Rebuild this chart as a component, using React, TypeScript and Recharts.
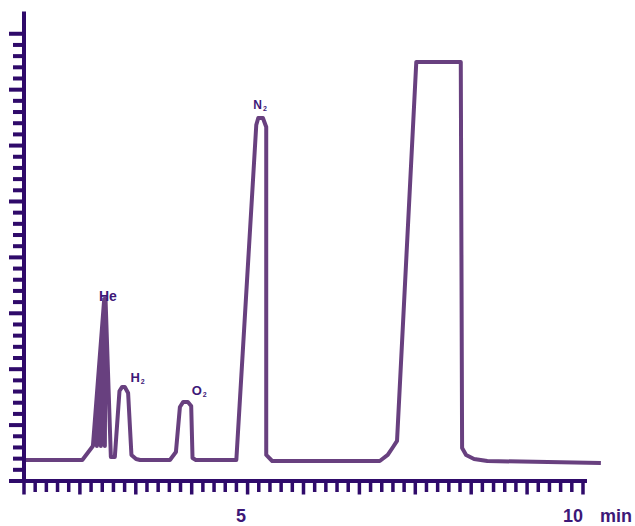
import React from "react"
import { LineChart, Line, XAxis, YAxis, ReferenceDot } from "recharts"

// retention time (min) and detector signal
const times = [
  1.73, 2.61, 2.77, 2.94, 2.83, 2.95, 2.89, 2.952, 2.95, 2.96, 3.04, 3.1, 3.17, 3.21, 3.25, 3.3, 3.35,
  3.42, 3.48, 3.93, 4.02, 4.08, 4.13, 4.2, 4.25, 4.27, 4.32, 4.93, 5.23, 5.26, 5.33, 5.38, 5.38, 5.47,
  7.09, 7.21, 7.29, 7.35, 7.64, 8.31, 8.33, 8.39, 8.51, 8.71, 10.42,
]
const signal = [
  1.88, 1.88, 3.13, 16.28, 3.13, 16.28, 3.13, 16.28, 3.13, 16.28, 2.15, 2.15, 8.05, 8.41, 8.41, 7.87, 2.33,
  1.97, 1.88, 1.88, 2.59, 6.62, 7.07, 7.07, 6.71, 2.06, 1.88, 1.88, 31.84, 32.47, 32.47, 31.66, 2.33, 1.79,
  1.79, 2.33, 3.04, 3.58, 37.48, 37.48, 2.95, 2.33, 1.97, 1.79, 1.61,
]

const peakNames = ["He", "H2", "O2", "N2"]
const peakTimes = [2.95, 3.23, 4.16, 5.29]
const peakHeights = [16.28, 8.41, 7.07, 32.47]

const xLabels = [5, 10]
const xUnit = "min"

const data = times.map((t, i) => ({ t, s: signal[i] }))

const AXIS = "#2f0a6a"
const TEXT = "#3d1878"
const TRACE = "#68407f"
const FONT = "'Liberation Sans', Arial, sans-serif"

const W = 627
const H = 518
const LEFT = 16
const RIGHT = 27
const TOP = 3.4
const XH = 45

const PX_PER_MIN = 66.4
const T0 = 1.732
const T1 = T0 + (W - LEFT - RIGHT) / PX_PER_MIN
const MARKS = 50
const MARK_STEP = 0.16837
const markTicks = Array.from({ length: MARKS + 1 }, (_, i) => T0 + i * MARK_STEP)
const yTicks = Array.from({ length: 41 }, (_, i) => i)

const labelStyle: Record<string, { dx: number; dy: number; size: number; anchor: string }> = {
  He: { dx: 3, dy: 1.7, size: 14, anchor: "middle" },
  H2: { dx: 7, dy: -5, size: 13, anchor: "start" },
  O2: { dx: 6.5, dy: -7, size: 13, anchor: "start" },
  N2: { dx: -7, dy: -8.7, size: 12, anchor: "start" },
}

const YTick = ({ x, y, payload }: any) => {
  const len = payload.value % 5 === 0 ? 15 : 11
  return <rect x={x - len} y={y - 2} width={len} height={4} fill={AXIS} />
}

const XTick = ({ x, y, payload }: any) => {
  const v = payload.value
  if (xLabels.includes(v)) {
    const last = v === xLabels[xLabels.length - 1]
    return (
      <g fontFamily={FONT} fontWeight="bold" fontSize={18} fill={TEXT}>
        <text x={x} y={y + 41} textAnchor="middle">{v}</text>
        {last && <text x={x + 27} y={y + 41}>{xUnit}</text>}
      </g>
    )
  }
  const i = Math.round((v - T0) / MARK_STEP)
  const long = i % 5 === 0
  const stepPx = MARK_STEP * PX_PER_MIN
  return (
    <g fill={AXIS}>
      {i === 0 && <rect x={x - 15} y={y - 2} width={15 + MARKS * stepPx + 4} height={4} />}
      <rect x={x - 1.75} y={y} width={3.5} height={long ? 13.5 : 11} />
    </g>
  )
}

const PeakLabel = ({ cx, cy, name }: any) => {
  const st = labelStyle[name]
  const m = name.match(/^([A-Za-z]+)(\d*)$/)
  return (
    <text
      x={cx + st.dx}
      y={cy + st.dy}
      textAnchor={st.anchor}
      fontFamily={FONT}
      fontWeight="bold"
      fontSize={st.size}
      fill={TEXT}
    >
      <tspan>{m[1]}</tspan>
      {m[2] && (
        <tspan fontSize={7} dx={1} dy={2}>
          {m[2]}
        </tspan>
      )}
    </text>
  )
}

export default function App() {
  return (
    <>
      <style>
        {"html { overflow: hidden; } body { margin-right: 0; } .recharts-wrapper { max-width: none !important; overflow: visible !important; } .recharts-surface { overflow: visible; }"}
      </style>
      <LineChart width={W} height={H} data={data} margin={{ top: TOP, right: RIGHT, bottom: 0, left: 0 }}>
        <XAxis
          dataKey="t"
          type="number"
          domain={[T0, T1]}
          allowDataOverflow
          ticks={[...markTicks, ...xLabels]}
          interval={0}
          tick={<XTick />}
          tickSize={0}
          tickMargin={0}
          tickLine={false}
          axisLine={false}
          height={XH}
        />
        <YAxis
          type="number"
          domain={[0, 42]}
          allowDataOverflow
          ticks={yTicks}
          interval={0}
          tick={<YTick />}
          tickSize={0}
          tickMargin={0}
          tickLine={false}
          axisLine={{ stroke: AXIS, strokeWidth: 4 }}
          width={LEFT}
        />
        <Line
          dataKey="s"
          type="linear"
          stroke={TRACE}
          strokeWidth={4}
          strokeLinejoin="round"
          dot={false}
          activeDot={false}
          isAnimationActive={false}
        />
        {peakNames.map((name, i) => (
          <ReferenceDot
            key={name}
            x={peakTimes[i]}
            y={peakHeights[i]}
            r={0}
            ifOverflow="visible"
            shape={(p: any) => <PeakLabel {...p} name={name} />}
          />
        ))}
      </LineChart>
    </>
  )
}
